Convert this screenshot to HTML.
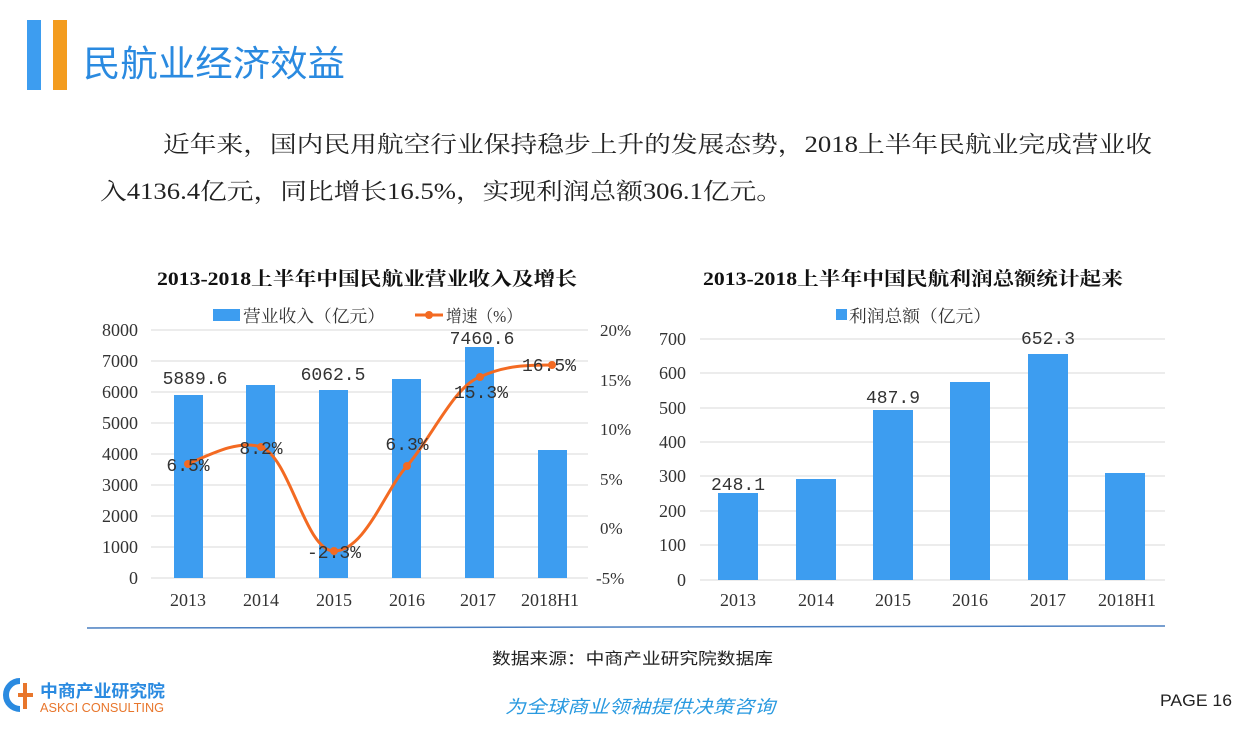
<!DOCTYPE html>
<html><head><meta charset="utf-8"><style>
body{margin:0;width:1251px;height:730px;background:#fff;overflow:hidden}
svg{display:block}
.s{font-family:"Liberation Serif","Noto Serif CJK SC",serif}
.m{font-family:"Liberation Mono","Noto Serif CJK SC",monospace}
.h{font-family:"Liberation Sans","Noto Sans CJK SC",sans-serif}
</style></head><body>
<svg width="1251" height="730" viewBox="0 0 1251 730">
<rect x="27" y="20" width="14" height="70" fill="#3d9df0"/>
<rect x="53" y="20" width="14" height="70" fill="#f39c1f"/>
<text x="83" y="76" class="h" font-size="36" fill="#2a8ae0" textLength="262" lengthAdjust="spacingAndGlyphs">民航业经济效益</text>
<text x="163" y="152" class="s" font-size="23" fill="#222" textLength="989" lengthAdjust="spacingAndGlyphs">近年来，国内民用航空行业保持稳步上升的发展态势，2018上半年民航业完成营业收</text>
<text x="100" y="199" class="s" font-size="23" fill="#222" textLength="683" lengthAdjust="spacingAndGlyphs">入4136.4亿元，同比增长16.5%，实现利润总额306.1亿元。</text>

<!-- left chart -->
<text x="157" y="285" class="s" font-size="19" font-weight="bold" fill="#111" textLength="420" lengthAdjust="spacingAndGlyphs">2013-2018上半年中国民航业营业收入及增长</text>
<rect x="213" y="309" width="27" height="12" fill="#3d9df0"/>
<text x="243" y="322" class="s" font-size="17" fill="#333" textLength="142" lengthAdjust="spacingAndGlyphs">营业收入（亿元）</text>
<line x1="415" y1="315" x2="443" y2="315" stroke="#f36a22" stroke-width="3"/><circle cx="429" cy="315" r="4" fill="#f36a22"/>
<text x="446" y="322" class="s" font-size="17" fill="#333" textLength="76" lengthAdjust="spacingAndGlyphs">增速（%）</text>
<g stroke="#d9d9d9" stroke-width="1">
<line x1="151" y1="330" x2="588" y2="330"/><line x1="151" y1="361" x2="588" y2="361"/><line x1="151" y1="392" x2="588" y2="392"/><line x1="151" y1="423" x2="588" y2="423"/><line x1="151" y1="454" x2="588" y2="454"/><line x1="151" y1="485" x2="588" y2="485"/><line x1="151" y1="516" x2="588" y2="516"/><line x1="151" y1="547" x2="588" y2="547"/><line x1="151" y1="578" x2="588" y2="578"/>
</g>
<g class="s" font-size="18" fill="#333" text-anchor="end">
<text x="138" y="336">8000</text><text x="138" y="367">7000</text><text x="138" y="398">6000</text><text x="138" y="429">5000</text><text x="138" y="460">4000</text><text x="138" y="491">3000</text><text x="138" y="522">2000</text><text x="138" y="553">1000</text><text x="138" y="584">0</text>
</g>
<g class="s" font-size="17" fill="#333">
<text x="600" y="336">20%</text><text x="600" y="386">15%</text><text x="600" y="435">10%</text><text x="600" y="485">5%</text><text x="600" y="534">0%</text><text x="596" y="584">-5%</text>
</g>
<g fill="#3d9df0">
<rect x="174" y="395" width="29" height="183"/>
<rect x="246" y="385" width="29" height="193"/>
<rect x="319" y="390" width="29" height="188"/>
<rect x="392" y="379" width="29" height="199"/>
<rect x="465" y="347" width="29" height="231"/>
<rect x="538" y="450" width="29" height="128"/>
</g>
<path d="M188,464 C215,452 240,440 261,447 C290,457 305,551 334,551 C365,551 385,490 407,466 C430,440 455,385 480,377 C505,365 530,365 552,365" fill="none" stroke="#f36a22" stroke-width="3"/>
<g fill="#f36a22"><circle cx="188" cy="464" r="4"/><circle cx="261" cy="447" r="4"/><circle cx="334" cy="551" r="4"/><circle cx="407" cy="466" r="4"/><circle cx="480" cy="377" r="4"/><circle cx="552" cy="365" r="4"/></g>
<g class="m" font-size="18" fill="#333" text-anchor="middle">
<text x="195" y="384">5889.6</text><text x="333" y="380">6062.5</text><text x="482" y="344">7460.6</text>
<text x="188" y="471">6.5%</text><text x="261" y="454">8.2%</text><text x="334" y="558">-2.3%</text><text x="407" y="450">6.3%</text><text x="481" y="398">15.3%</text><text x="549" y="371">16.5%</text>
</g>
<g class="s" font-size="18" fill="#333" text-anchor="middle">
<text x="188" y="606">2013</text><text x="261" y="606">2014</text><text x="334" y="606">2015</text><text x="407" y="606">2016</text><text x="478" y="606">2017</text><text x="550" y="606">2018H1</text>
</g>

<!-- right chart -->
<text x="703" y="285" class="s" font-size="19" font-weight="bold" fill="#111" textLength="420" lengthAdjust="spacingAndGlyphs">2013-2018上半年中国民航利润总额统计起来</text>
<rect x="836" y="309" width="11" height="11" fill="#3d9df0"/>
<text x="849" y="322" class="s" font-size="17" fill="#333" textLength="142" lengthAdjust="spacingAndGlyphs">利润总额（亿元）</text>
<g stroke="#d9d9d9" stroke-width="1">
<line x1="700" y1="339" x2="1165" y2="339"/><line x1="700" y1="373" x2="1165" y2="373"/><line x1="700" y1="408" x2="1165" y2="408"/><line x1="700" y1="442" x2="1165" y2="442"/><line x1="700" y1="476" x2="1165" y2="476"/><line x1="700" y1="511" x2="1165" y2="511"/><line x1="700" y1="545" x2="1165" y2="545"/><line x1="700" y1="580" x2="1165" y2="580"/>
</g>
<g class="s" font-size="18" fill="#333" text-anchor="end">
<text x="686" y="345">700</text><text x="686" y="379">600</text><text x="686" y="414">500</text><text x="686" y="448">400</text><text x="686" y="482">300</text><text x="686" y="517">200</text><text x="686" y="551">100</text><text x="686" y="586">0</text>
</g>
<g fill="#3d9df0">
<rect x="718" y="493" width="40" height="87"/>
<rect x="796" y="479" width="40" height="101"/>
<rect x="873" y="410" width="40" height="170"/>
<rect x="950" y="382" width="40" height="198"/>
<rect x="1028" y="354" width="40" height="226"/>
<rect x="1105" y="473" width="40" height="107"/>
</g>
<g class="m" font-size="18" fill="#333" text-anchor="middle">
<text x="738" y="490">248.1</text><text x="893" y="403">487.9</text><text x="1048" y="344">652.3</text>
</g>
<g class="s" font-size="18" fill="#333" text-anchor="middle">
<text x="738" y="606">2013</text><text x="816" y="606">2014</text><text x="893" y="606">2015</text><text x="970" y="606">2016</text><text x="1048" y="606">2017</text><text x="1127" y="606">2018H1</text>
</g>

<!-- footer -->
<line x1="87" y1="628" x2="1165" y2="626" stroke="#4a7fc1" stroke-width="1.5"/>
<text x="492" y="664" class="h" font-size="16" fill="#222" textLength="281" lengthAdjust="spacingAndGlyphs">数据来源：中商产业研究院数据库</text>
<path d="M20,681 A13,13 0 0 0 20,709" fill="none" stroke="#2a8ae0" stroke-width="6"/>
<path d="M25,683 L25,709 M18,695 L33,695" stroke="#e8762c" stroke-width="4"/>
<text x="40" y="697" class="h" font-size="17" font-weight="bold" fill="#2a8ae0" textLength="125" lengthAdjust="spacingAndGlyphs">中商产业研究院</text>
<text x="40" y="712" class="h" font-size="13" fill="#e8762c" textLength="124" lengthAdjust="spacingAndGlyphs">ASKCI CONSULTING</text>
<text x="505" y="713" class="h" font-size="18" font-style="italic" fill="#2a9ae0" textLength="270" lengthAdjust="spacingAndGlyphs">为全球商业领袖提供决策咨询</text>
<text x="1160" y="706" class="h" font-size="17" fill="#222" textLength="72" lengthAdjust="spacingAndGlyphs">PAGE 16</text>
</svg>
</body></html>
